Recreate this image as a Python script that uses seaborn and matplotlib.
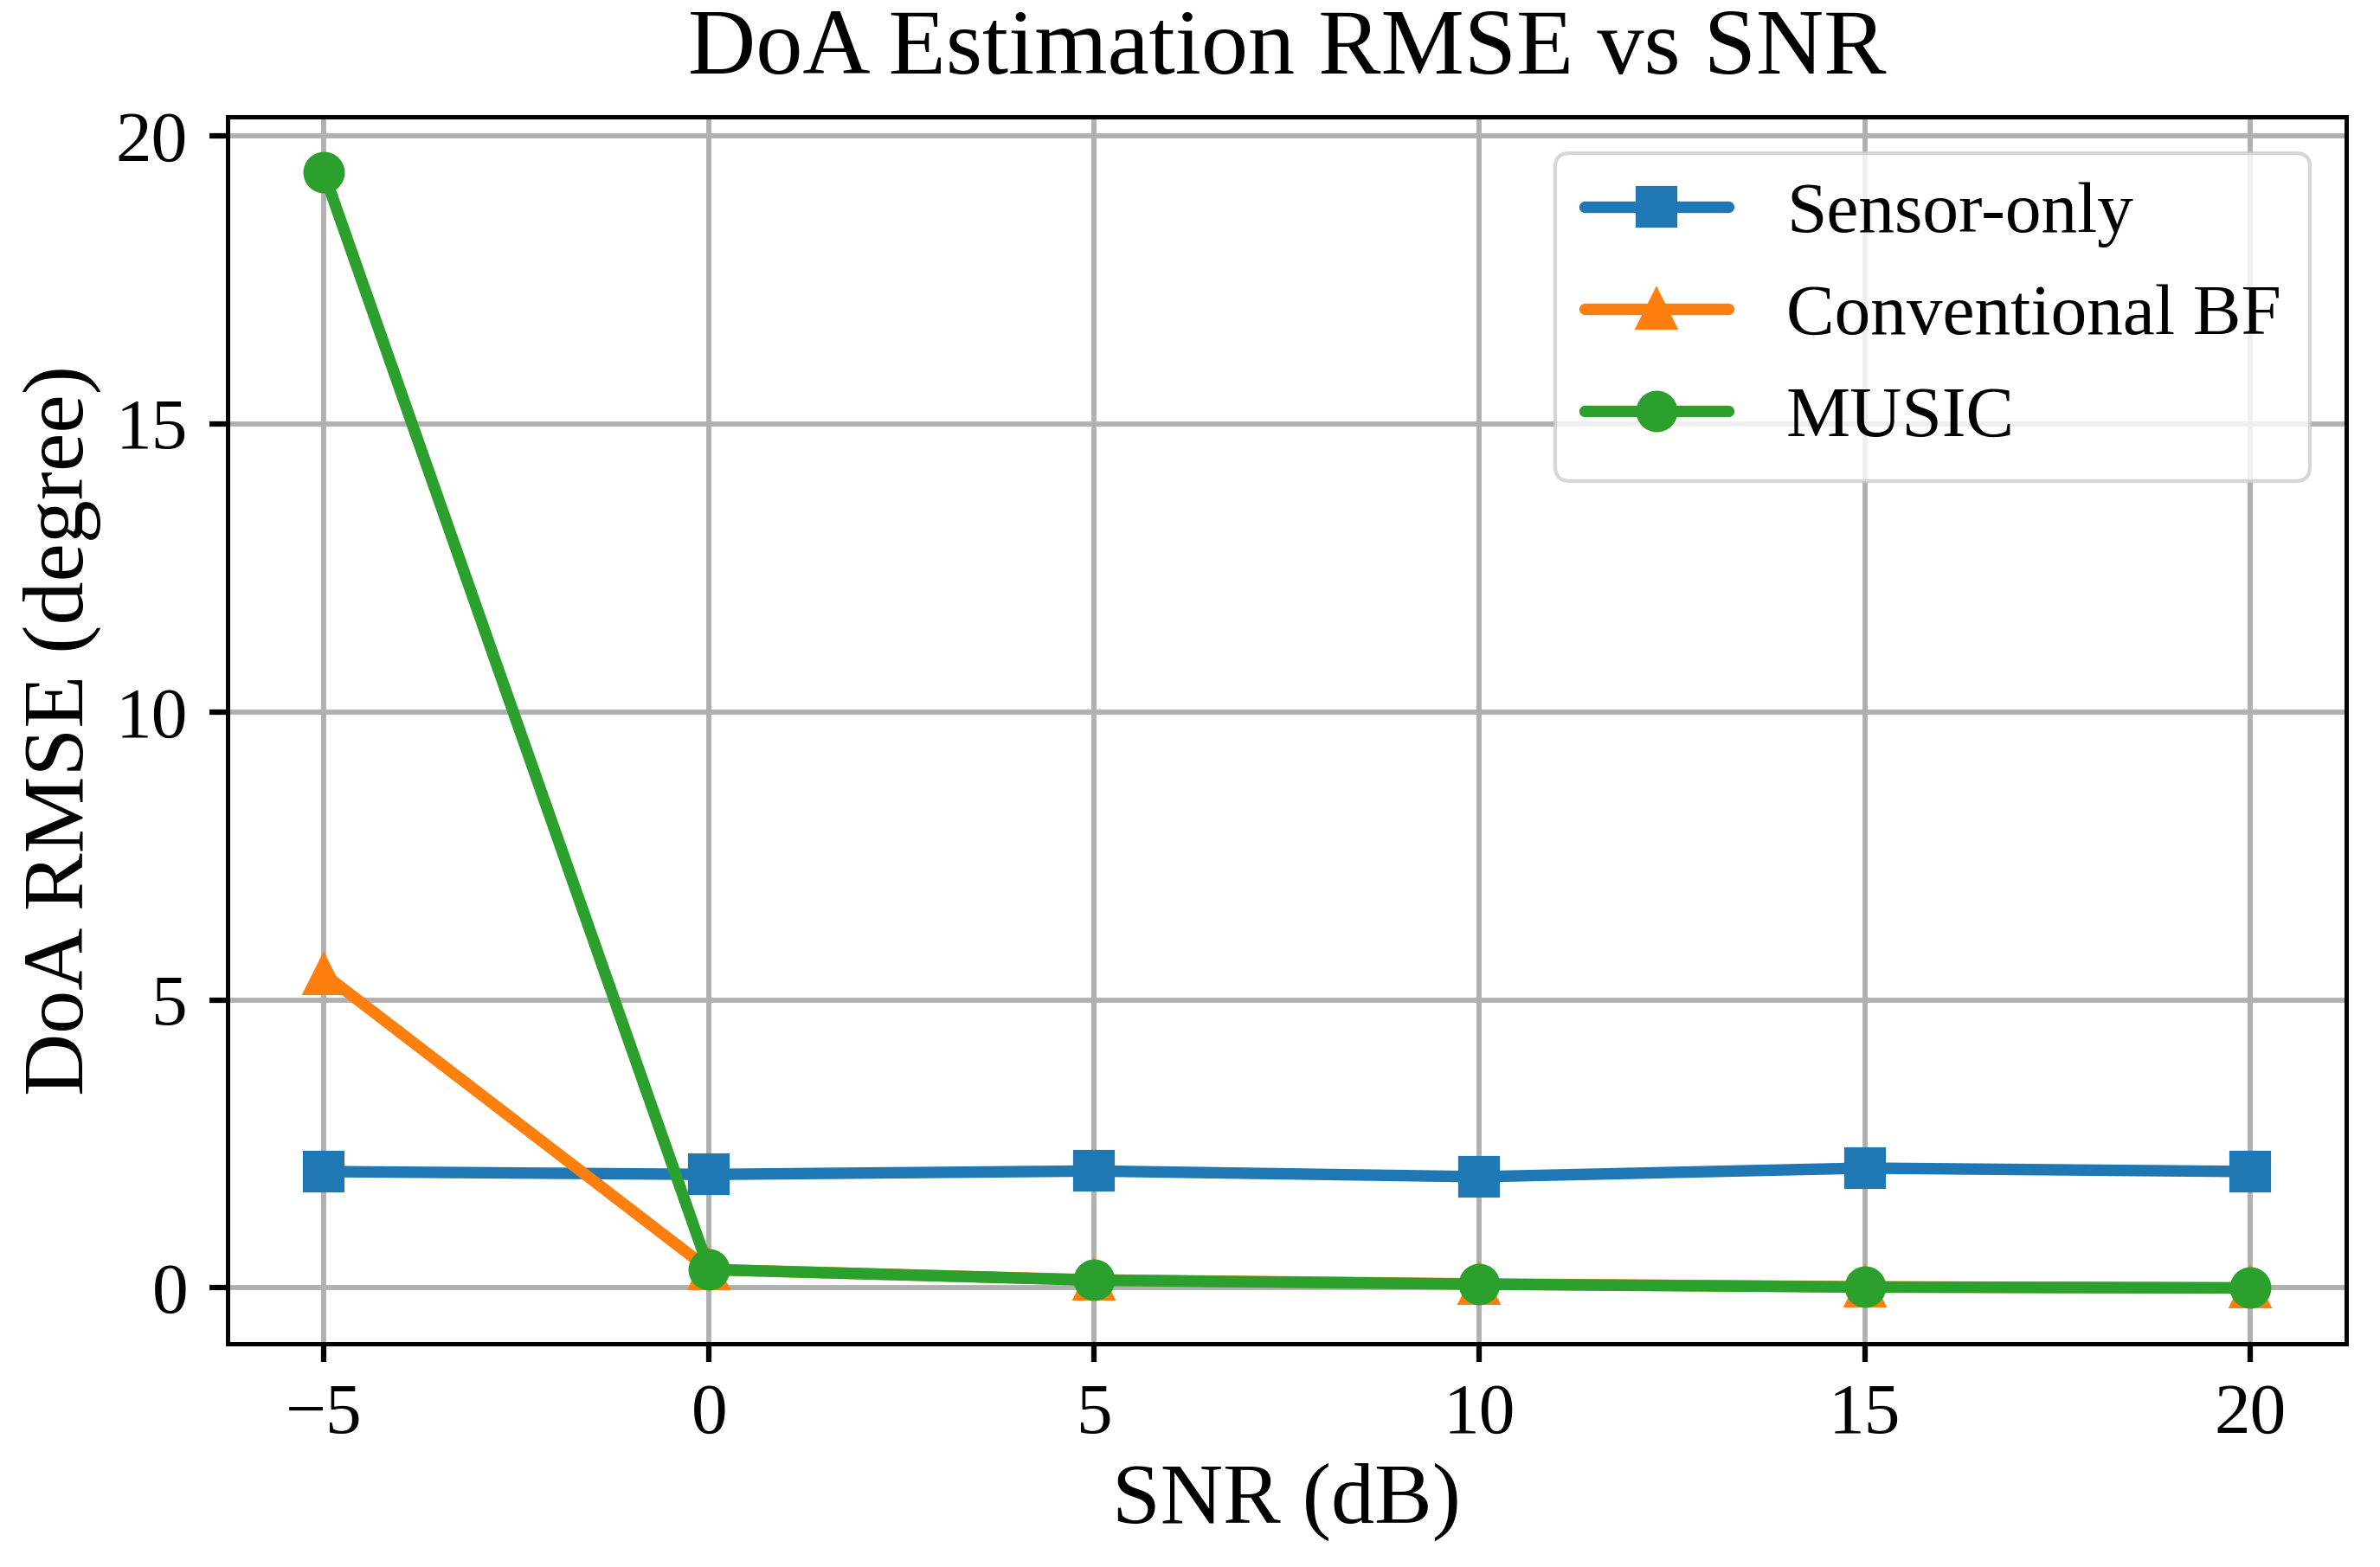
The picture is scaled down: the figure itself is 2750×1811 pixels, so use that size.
import matplotlib
matplotlib.use("Agg")
import matplotlib.pyplot as plt
import seaborn as sns
import pandas as pd

snr_db = [-5, 0, 5, 10, 15, 20]
sensor_only = [2.02, 1.97, 2.03, 1.93, 2.08, 2.02]
conventional_bf = [5.45, 0.32, 0.14, 0.07, 0.02, 0.0]
music = [19.36, 0.32, 0.135, 0.065, 0.015, 0.0]

series_names = ["Sensor-only", "Conventional BF", "MUSIC"]
series_values = [sensor_only, conventional_bf, music]
series_markers = ["s", "^", "o"]
series_colors = ["#1f77b4", "#ff7f0e", "#2ca02c"]

sns.set_style("white")
plt.rcParams['font.family'] = ['Liberation Serif', 'DejaVu Serif']
plt.rcParams['axes.unicode_minus'] = True
plt.rcParams['text.color'] = 'black'
plt.rcParams['axes.labelcolor'] = 'black'
plt.rcParams['xtick.color'] = 'black'
plt.rcParams['ytick.color'] = 'black'

fig = plt.figure(figsize=(2750 / 300, 1811 / 300), dpi=300)
ax = fig.add_axes([0.0956, 0.1425, 0.8902, 0.7830])

for name, vals, mk, col in zip(series_names, series_values, series_markers, series_colors):
    df = pd.DataFrame({"SNR": snr_db, "RMSE": vals})
    sns.lineplot(data=df, x="SNR", y="RMSE", ax=ax, color=col, marker=mk,
                 markersize=10.5, markeredgewidth=1, markeredgecolor=col,
                 linewidth=3.2, label=name)

ax.set_xticks(snr_db)
ax.set_yticks([0, 5, 10, 15, 20])
ax.grid(True, color="#b0b0b0", linewidth=1.4)
ax.set_axisbelow(True)
for s in ax.spines.values():
    s.set_linewidth(1.2)
    s.set_color("black")
ax.tick_params(axis="both", labelsize=20, length=5, width=1.5, direction="out",
               bottom=True, left=True, color="black", labelcolor="black", pad=6)
ax.set_xlabel("SNR (dB)", fontsize=24, color="black")
ax.set_ylabel("DoA RMSE (degree)", fontsize=24, color="black")
ax.set_title("DoA Estimation RMSE vs SNR", fontsize=26, pad=12, color="black")
leg = ax.legend(loc="upper right", fontsize=20, frameon=True, fancybox=True,
                framealpha=0.8, edgecolor="#cccccc")
for t in leg.get_texts():
    t.set_color("black")

fig.savefig("out.png", dpi=300)
